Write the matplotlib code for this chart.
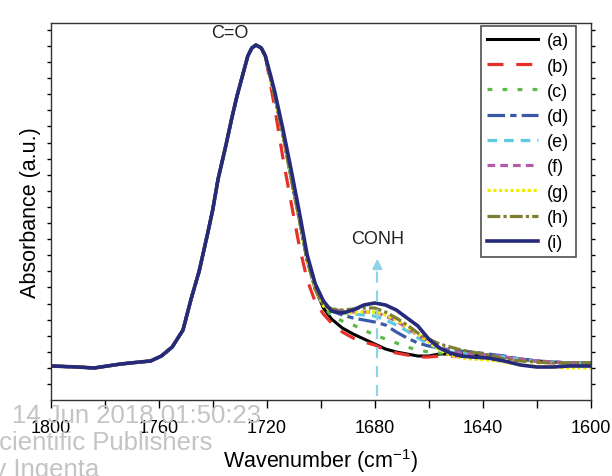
import numpy as np
import matplotlib.pyplot as plt
from matplotlib.ticker import MultipleLocator

plt.rcParams['font.family'] = ['Liberation Sans', 'DejaVu Sans']
plt.rcParams['mathtext.fontset'] = 'custom'
plt.rcParams['mathtext.rm'] = 'Liberation Sans'
plt.rcParams['mathtext.default'] = 'regular'

# C=O band, the same for all samples (absorbance in arbitrary units)
wn_peak = [1800, 1790, 1784, 1774, 1767, 1763, 1759, 1755, 1751, 1748, 1745,
           1742, 1740, 1738, 1735, 1733, 1731, 1729, 1727, 1725.5, 1724,
           1722, 1720.5]
abs_peak = [34, 33, 32, 36, 38, 39, 44, 53, 70, 101, 129,
            165, 190, 221, 256, 281, 304, 324, 344, 352, 355,
            352, 344]

# shoulder + amide (CONH) region, one series per sample
wn_tail = [1718.5, 1717, 1714, 1711, 1708, 1705, 1702, 1699, 1696, 1692, 1688,
           1684, 1680, 1676, 1672, 1668, 1664, 1660, 1656, 1652, 1648, 1644,
           1638, 1632, 1626, 1620, 1614, 1608, 1600]
abs_a = [321, 304, 266, 223, 182, 140, 111, 92, 81, 72, 66, 61, 56, 51, 48,
         46, 44, 44, 46, 46, 46, 46, 44, 43, 41, 39, 38, 37, 37]
abs_b = [314, 292, 242, 198, 155, 120, 98, 86, 77, 68, 62, 58, 55, 50, 47,
         45, 43, 43, 44, 44, 44, 44, 43, 42, 40, 38, 37, 36, 36]
abs_c = [321, 304, 266, 223, 182, 140, 111, 94, 84, 79, 75, 70, 65, 61, 57,
         53, 50, 48, 47, 46, 45, 44, 43, 42, 40, 39, 38, 37, 36]
abs_d = [321, 304, 266, 223, 182, 140, 111, 95, 89, 85, 82, 80, 78, 75, 68,
         62, 57, 54, 52, 50, 49, 48, 46, 44, 41, 39, 38, 37, 37]
abs_e = [321, 304, 266, 223, 182, 140, 111, 95, 90, 87, 86, 85, 84, 80, 75,
         69, 62, 56, 51, 48, 47, 46, 45, 43, 41, 39, 38, 37, 37]
abs_f = [321, 304, 266, 223, 182, 140, 111, 95, 91, 89, 88, 88, 88, 84, 79,
         72, 65, 58, 52, 49, 47, 46, 45, 43, 41, 39, 38, 37, 37]
abs_g = [321, 304, 266, 223, 182, 140, 111, 94, 89, 87, 87, 88, 88, 85, 80,
         73, 66, 58, 50, 45, 42, 41, 40, 38, 35, 34, 33, 32, 32]
abs_h = [321, 304, 266, 223, 182, 140, 111, 95, 91, 90, 91, 92, 92, 88, 82,
         75, 67, 61, 56, 53, 50, 48, 45, 41, 39, 38, 37, 37, 37]
abs_i = [324, 308, 271, 231, 189, 145, 116, 99, 89, 87, 90, 95, 97, 95, 90,
         82, 74, 61, 52, 47, 44, 43, 42, 39, 35, 33, 33, 34, 34]

labels = ['(a)', '(b)', '(c)', '(d)', '(e)', '(f)', '(g)', '(h)', '(i)']
tails = [abs_a, abs_b, abs_c, abs_d, abs_e, abs_f, abs_g, abs_h, abs_i]
colors = ['#000000', '#e8302b', '#5cb947', '#3a5aa8', '#5ccbe0',
          '#b45aa8', '#f2ea00', '#7d7e32', '#262a7a']
dashes = [None, (5, 4), (1.5, 3.2), (5.5, 1.6, 2, 1.6), (3, 2.2),
          (2.4, 1.6), (1, 0.8), (4, 1, 1, 1), None]
widths = [2.2, 2.3, 2.3, 2.3, 2.3, 2.3, 2.3, 2.3, 2.6]

fig = plt.figure(figsize=(6.12, 4.77), dpi=100)
ax = fig.add_axes([50.7/612, 1 - 401/477, 540/612, 377/477])

wn = wn_peak + wn_tail
for lab, tail, c, d, w in zip(labels, tails, colors, dashes, widths):
    line, = ax.plot(wn, abs_peak + tail, color=c, lw=w, label=lab)
    if d is not None:
        line.set_dashes(d)

# CONH arrow
ax.plot([1679, 1679], [4, 132], color='#8fd3e8', lw=1.6, dashes=(5, 3.5))
ax.annotate('', xy=(1679, 144), xytext=(1679, 128),
            arrowprops=dict(arrowstyle='-|>', color='#8fd3e8', lw=1.6,
                            mutation_scale=14))
ax.text(1679, 161, 'CONH', ha='center', va='center', fontsize=13, color='#222222')
ax.text(1733.5, 367, 'C=O', ha='center', va='center', fontsize=13, color='#222222')

ax.set_xlim(1800, 1600)
ax.set_ylim(0, 377)
ax.xaxis.set_major_locator(MultipleLocator(40))
ax.xaxis.set_minor_locator(MultipleLocator(20))
ax.set_yticks(np.arange(16, 372, 16.1))
ax.tick_params(axis='x', which='both', direction='out', length=6, width=1,
               labelsize=13, pad=8, top=False)
ax.tick_params(axis='y', which='both', direction='out', length=3, width=1,
               left=True, right=True, labelleft=False)
for s in ax.spines.values():
    s.set_linewidth(1)
    s.set_color('#333333')

ax.set_xlabel('Wavenumber (cm$^{-1}$)', fontsize=15.5, labelpad=7)
ax.set_ylabel('Absorbance (a.u.)', fontsize=15.5, labelpad=4)

leg = ax.legend(loc='upper right', bbox_to_anchor=(0.972, 0.992), fontsize=13,
                frameon=True, fancybox=False, edgecolor='#222222',
                handlelength=2.8, handletextpad=0.5, labelspacing=0.455,
                borderpad=0.35, borderaxespad=0)
leg.get_frame().set_linewidth(1.2)

# watermark of the source page
wm = '#c4c4c4'
fig.text(12/612, 1 - 423/477, '14 Jun 2018 01:50:23', fontsize=18.5, color=wm, va='baseline')
fig.text(-18/612, 1 - 450/477, 'Scientific Publishers', fontsize=18.5, color=wm, va='baseline')
fig.text(-21/612, 1 - 477/477, 'by Ingenta', fontsize=18.5, color=wm, va='baseline')

fig.savefig('out.png', dpi=100)
